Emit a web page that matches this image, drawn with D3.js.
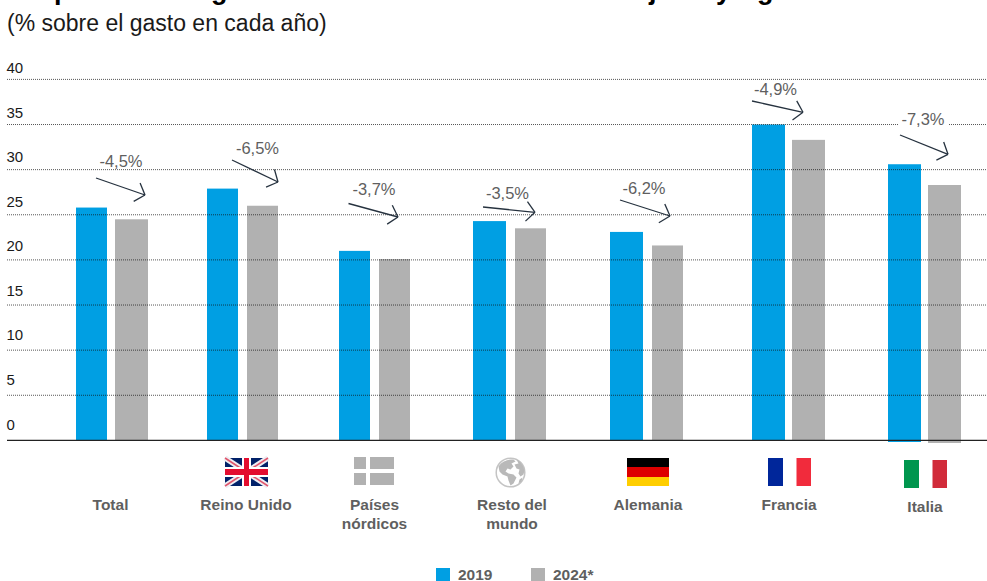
<!DOCTYPE html>
<html lang="es"><head><meta charset="utf-8">
<script src="https://cdn.jsdelivr.net/npm/d3@7"></script>
<style>
html,body{margin:0;padding:0;background:#fff}
svg{display:block}
text{font-family:"Liberation Sans",Arial,sans-serif}
</style></head><body>
<script>
// ---- data ----
const categories = ["Total","Reino Unido","Países nórdicos","Resto del mundo","Alemania","Francia","Italia"];
const values2019 = [25.8,27.9,21.0,24.3,23.1,35.0,30.6];
const values2024 = [24.5,26.0,20.1,23.5,21.6,33.3,28.3];
const changes = ["-4,5%","-6,5%","-3,7%","-3,5%","-6,2%","-4,9%","-7,3%"];
const yTicks = [0,5,10,15,20,25,30,35,40];
const seriesNames = ["2019","2024*"];
const subtitle = "(% sobre el gasto en cada año)";

// ---- layout ----
const W=987,H=581;
const C1="#009fe3",C2="#b1b1b1",TXT="#5f5f5f",ARROW="#26323f";
const barW1=[31,31,31,33,33,33,33], barW2=[33,31,31,31,31,33,33], gap=[8,9,9,9,9,7,7];
const barLeft=[76,207,339,473,610,752,888];
const barBottom1=[440,440,440,440,440,440,442], barBottom2=[440,440,440,440,440,440,443];
const labelX=[110.5,246,374.5,512,648,789,925];
const labelY=[510,510,510,510,510,510,512];
const arrows=[[96,178,145,195],[232,160,278,182],[348.5,203.5,398,217],[483,207,535,212.3],[620,200,670,216],[752,101,803,112.3],[900,135,948,154.3]];
const chgPos=[[121,167],[257.5,154],[374,195],[507.5,198.5],[644,193.5],[775.5,94.5],[923,124.5]];

const svg=d3.select("body").append("svg").attr("width",W).attr("height",H).attr("viewBox",[0,0,W,H]);
const y=d3.scaleLinear().domain([0,40]).range([440.4,79.4]);
const yLabel=d3.scaleLinear().domain([0,40]).range([429.5,73]);
const xL=d3.scaleOrdinal().domain(categories).range(barLeft);

// cropped remains of the bold headline: only the descenders survive at the page top
const frag=[["p",54],["g",211],["j",649],["y",716],["g",757]];
svg.append("g").selectAll("text").data(frag).join("text")
  .attr("x",d=>d[1]).attr("y",-1).attr("font-size",27).attr("font-weight",700).attr("fill","#000").text(d=>d[0]);

svg.append("text").attr("x",7).attr("y",31).attr("font-size",23).attr("fill","#1a1a1a").text(subtitle);

// bars
const g=svg.append("g");
categories.forEach((c,i)=>{
  const x0=xL(c);
  g.append("rect").attr("x",x0).attr("width",barW1[i]).attr("y",y(values2019[i])).attr("height",barBottom1[i]-y(values2019[i])).attr("fill",C1);
  g.append("rect").attr("x",x0+barW1[i]+gap[i]).attr("width",barW2[i]).attr("y",y(values2024[i])).attr("height",barBottom2[i]-y(values2024[i])).attr("fill",C2);
});

// grid + y labels
const grid=svg.append("g");
yTicks.filter(t=>t>0).forEach(t=>{
  grid.append("line").attr("x1",7).attr("x2",W).attr("y1",y(t)).attr("y2",y(t))
   .attr("stroke","#111").attr("stroke-width",1).attr("stroke-dasharray","1 1").attr("opacity",.7);
});
yTicks.forEach(t=>{
  svg.append("text").attr("x",6.5).attr("y",yLabel(t)).attr("font-size",15).attr("fill","#1a1a1a").text(t);
});
svg.append("line").attr("x1",7).attr("x2",W).attr("y1",440.4).attr("y2",440.4).attr("stroke","#222").attr("stroke-width",1.2);

// change arrows
const ag=svg.append("g").attr("fill","none").attr("stroke",ARROW).attr("stroke-width",1.3);
arrows.forEach(a=>{
  const [x0,y0,x1,y1]=a;
  ag.append("line").attr("x1",x0).attr("y1",y0).attr("x2",x1).attr("y2",y1);
  const ang=Math.atan2(y1-y0,x1-x0), L=13;
  [0.85,-0.85].forEach(d=>{
    const p=ang+Math.PI+d;
    ag.append("line").attr("x1",x1).attr("y1",y1).attr("x2",x1+L*Math.cos(p)).attr("y2",y1+L*Math.sin(p));
  });
});
// the Italy label masks the gridline behind it
svg.append("rect").attr("x",899).attr("y",y(35)-1.5).attr("width",49).attr("height",3).attr("fill","#fff");
changes.forEach((t,i)=>{
  svg.append("text").attr("x",chgPos[i][0]).attr("y",chgPos[i][1]).attr("text-anchor","middle")
    .attr("font-size",16.5).attr("fill",TXT).text(t);
});

// category labels
categories.forEach((c,i)=>{
  const parts = c==="Países nórdicos"?["Países","nórdicos"]:c==="Resto del mundo"?["Resto del","mundo"]:[c];
  parts.forEach((p,k)=>svg.append("text").attr("x",labelX[i]).attr("y",labelY[i]+k*19)
    .attr("text-anchor","middle").attr("font-size",15.5).attr("font-weight",700).attr("fill",TXT).text(p));
});

// icons
const uk=svg.append("g").attr("transform","translate(225,458)");
uk.append("rect").attr("width",43).attr("height",28).attr("fill","#012169");
[[0,0,43,28],[43,0,0,28]].forEach(l=>{
  uk.append("line").attr("x1",l[0]).attr("y1",l[1]).attr("x2",l[2]).attr("y2",l[3]).attr("stroke","#eeeef3").attr("stroke-width",5.5);
  uk.append("line").attr("x1",l[0]).attr("y1",l[1]).attr("x2",l[2]).attr("y2",l[3]).attr("stroke","#e0566c").attr("stroke-width",1.6);
});
uk.append("rect").attr("x",17).attr("width",9).attr("height",28).attr("fill","#fff");
uk.append("rect").attr("y",9).attr("width",43).attr("height",10).attr("fill","#fff");
uk.append("rect").attr("x",19).attr("width",5).attr("height",28).attr("fill","#e30d2f");
uk.append("rect").attr("y",11).attr("width",43).attr("height",6).attr("fill","#e30d2f");

const nord=svg.append("g").attr("transform","translate(354,457)").attr("fill",C2);
[[0,0,12],[16,0,24],[0,16,12],[16,16,24]].forEach(r=>nord.append("rect").attr("x",r[0]).attr("y",r[1]).attr("width",r[2]).attr("height",12));

const gl=svg.append("g").attr("transform","translate(510.5,472.5)");
gl.append("circle").attr("r",14.3).attr("fill","#fff").attr("stroke","#c4c4c4").attr("stroke-width",1.5);
gl.append("path").attr("fill","#b9b9b9").attr("d","M-12,-6 C-8,-12 -2,-13 3,-13 L5,-11 L1,-9 L3,-6 L0,-3 L-3,-4 L-5,-1 L-2,1 L3,2 L6,5 L3,11 L0,13 L-2,8 L-3,4 L-8,2 L-11,-1 Z");
gl.append("path").attr("fill","#b9b9b9").attr("d","M6,-13 C10,-11 13,-7 14,-2 L13,2 L10,4 L8,1 L9,-3 L6,-4 L4,-8 L8,-9 Z");
gl.append("path").attr("fill","#b9b9b9").attr("d","M9,7 L12,5 L11,9 L8,11 Z");

const de=svg.append("g").attr("transform","translate(627,458)");
[["#000",0,9],["#dd0000",9,10],["#ffce00",19,9]].forEach(s=>de.append("rect").attr("y",s[1]).attr("width",42).attr("height",s[2]).attr("fill",s[0]));
const fr=svg.append("g").attr("transform","translate(768,458)");
[["#00269a",0,15],["#ffffff",15,13.5],["#f12b3c",28.5,14.5]].forEach(s=>fr.append("rect").attr("x",s[1]).attr("width",s[2]).attr("height",28).attr("fill",s[0]));
const it=svg.append("g").attr("transform","translate(904,460)");
[["#00964e",0,15],["#ffffff",15,13.5],["#d12b3a",28.5,14.5]].forEach(s=>it.append("rect").attr("x",s[1]).attr("width",s[2]).attr("height",28).attr("fill",s[0]));

// legend
const legX=[436,531];
seriesNames.forEach((s,i)=>{
  svg.append("rect").attr("x",legX[i]).attr("y",568).attr("width",14).attr("height",13).attr("fill",i?C2:C1);
  svg.append("text").attr("x",legX[i]+22).attr("y",580).attr("font-size",15.5).attr("font-weight",700).attr("fill",TXT).text(s);
});
</script>
</body></html>
